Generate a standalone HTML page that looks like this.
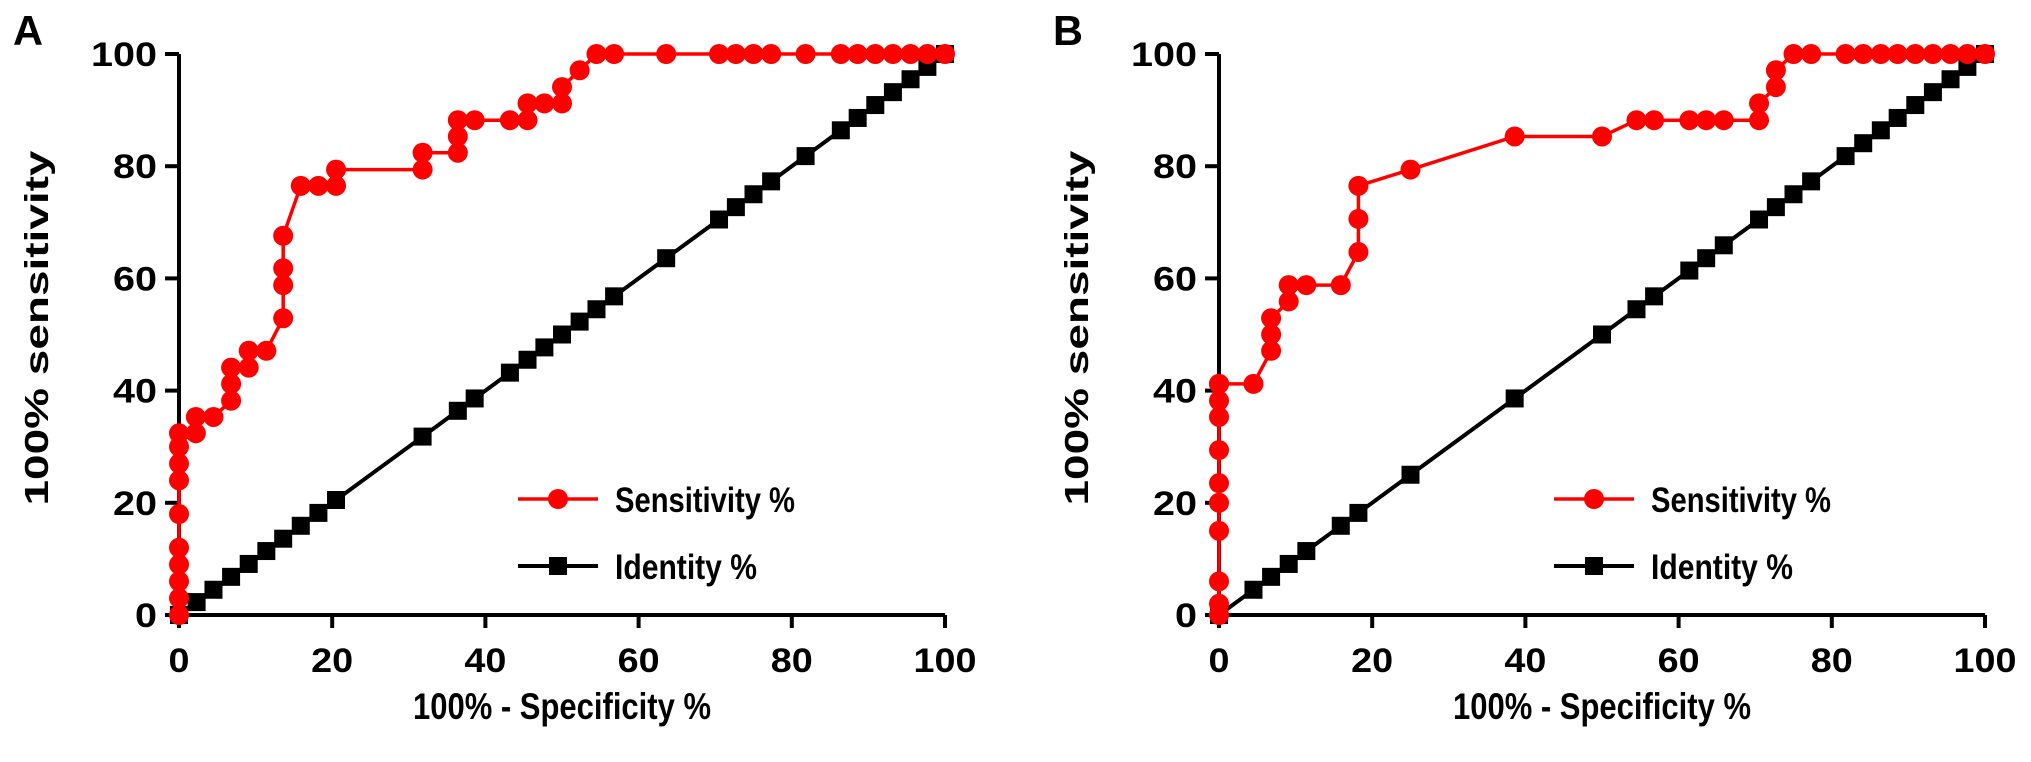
<!DOCTYPE html>
<html><head><meta charset="utf-8"><style>
html,body{margin:0;padding:0;background:#fff;}
svg{display:block;font-family:"Liberation Sans",Arial,sans-serif;font-weight:bold;}
</style></head><body>
<svg id="chart" width="2031" height="762" viewBox="0 0 2031 762" xmlns="http://www.w3.org/2000/svg"></svg>
<script>
const xTicks = [0,20,40,60,80,100];
const yTicks = [0,20,40,60,80,100];
const sensAx = [0,0,0,0,0,0,0,0,0,0,2.2,2.2,4.5,6.8,6.8,6.8,9.1,9.1,11.4,13.6,13.6,13.6,13.6,15.9,18.2,20.5,20.5,31.8,31.8,36.4,36.4,36.4,38.6,43.2,45.5,45.5,47.7,50,50,52.3,54.5,56.8,63.6,70.5,72.7,75,77.3,81.8,86.4,88.6,90.9,93.2,95.5,97.7,100];
const sensAy = [0,3,6,9,12,18,24,27,30,32.4,32.4,35.3,35.3,38.2,41.2,44.1,44.1,47.1,47.1,52.9,58.8,61.8,67.6,76.5,76.5,76.5,79.4,79.4,82.4,82.4,85.3,88.2,88.2,88.2,88.2,91.2,91.2,91.2,94.1,97.1,100,100,100,100,100,100,100,100,100,100,100,100,100,100,100];
const identA = [0,2.3,4.5,6.8,9.1,11.4,13.6,15.9,18.2,20.5,31.8,36.4,38.6,43.2,45.5,47.7,50,52.3,54.5,56.8,63.6,70.5,72.7,75,77.3,81.8,86.4,88.6,90.9,93.2,95.5,97.7,100];
const sensBx = [0,0,0,0,0,0,0,0,0,0,0,4.5,6.8,6.8,6.8,9.1,9.1,11.4,15.9,18.2,18.2,18.2,25,38.6,50,54.5,56.8,61.4,63.6,65.9,70.5,70.5,72.7,72.7,75,77.3,81.8,84.1,86.4,88.6,90.9,93.2,95.5,97.7,100];
const sensBy = [0,2,6,15,20,23.5,29.4,35.3,38.2,41.2,41.2,41.2,47.1,50,52.9,55.9,58.8,58.8,58.8,64.7,70.6,76.5,79.4,85.3,85.3,88.2,88.2,88.2,88.2,88.2,88.2,91.2,94.1,97.1,100,100,100,100,100,100,100,100,100,100,100];
const identB = [0,4.5,6.8,9.1,11.4,15.9,18.2,25,38.6,50,54.5,56.8,61.4,63.6,65.9,70.5,72.7,75,77.3,81.8,84.1,86.4,88.6,90.9,93.2,95.5,97.7,100];

const NS="http://www.w3.org/2000/svg";
const svg=document.getElementById('chart');
function mk(tag,attrs,parent){const e=document.createElementNS(NS,tag);for(const k in attrs)e.setAttribute(k,attrs[k]);(parent||svg).appendChild(e);return e;}
const W=766, Y0=615, Y100=54;
function yS(v){return Y0-(Y0-Y100)*v/100;}
function tl(s){return {textLength:s,lengthAdjust:'spacingAndGlyphs'};}

function panel(letter,x0,sx,sy,idv,titleX,legX){
  const xS=v=>x0+W*v/100;
  const g=mk('g',{});
  
  
  const lab=mk('text',Object.assign({x:x0-166,y:45,'font-size':42,fill:'#000'},tl(30)),g);lab.textContent=letter;
  
  
  const ax=mk('path',{d:`M${x0} ${Y100} V${Y0} H${xS(100)}`,stroke:'#000','stroke-width':4,fill:'none'},g);
  
  
  yTicks.forEach(t=>{
    mk('line',{x1:x0-14,x2:x0,y1:yS(t),y2:yS(t),stroke:'#000','stroke-width':4},g);
    const n=String(t).length;
    const tx=mk('text',Object.assign({x:x0-22,y:yS(t)+12,'font-size':34,'text-anchor':'end'},tl(22*n)),g);tx.textContent=t;
    
    
  });
  xTicks.forEach(t=>{
    mk('line',{x1:xS(t),x2:xS(t),y1:Y0,y2:Y0+13,stroke:'#000','stroke-width':4},g);
    const n=String(t).length;
    const tx=mk('text',Object.assign({x:xS(t),y:Y0+57,'font-size':34,'text-anchor':'middle'},tl(21*n)),g);tx.textContent=t;
    
    
  });
  const xt=mk('text',Object.assign({x:xS(50),y:719,'font-size':37,'text-anchor':'middle'},tl(298)),g);xt.textContent='100% - Specificity %';
  
  
  const yt=mk('text',Object.assign({x:0,y:0,'font-size':33,'text-anchor':'middle',transform:`translate(${titleX},328) rotate(-90)`},tl(355)),g);yt.textContent='100% sensitivity';
  
  
  const ip=mk('polyline',{points:idv.map(v=>xS(v)+','+yS(v)).join(' '),stroke:'#000','stroke-width':4,fill:'none'},g);
  
  
  idv.forEach(v=>{const r=mk('rect',{x:xS(v)-9,y:yS(v)-9,width:18,height:18,fill:'#000'},g);
    
    });
  const sp=mk('polyline',{points:sx.map((v,i)=>xS(v)+','+yS(sy[i])).join(' '),stroke:'#f00','stroke-width':3.5,fill:'none'},g);
  
  
  sx.forEach((v,i)=>{const c=mk('circle',{cx:xS(v),cy:yS(sy[i]),r:10,fill:'#f00'},g);
    
    });
  const lg=mk('g',{},g);
  
  
  mk('line',{x1:legX,x2:legX+80,y1:499,y2:499,stroke:'#f00','stroke-width':3.5},lg);
  mk('circle',{cx:legX+40,cy:499,r:10,fill:'#f00'},lg);
  const t1=mk('text',Object.assign({x:legX+97,y:512,'font-size':35},tl(180)),lg);t1.textContent='Sensitivity %';
  
  
  mk('line',{x1:legX,x2:legX+80,y1:566,y2:566,stroke:'#000','stroke-width':4},lg);
  mk('rect',{x:legX+31,y:557,width:18,height:18,fill:'#000'},lg);
  const t2=mk('text',Object.assign({x:legX+97,y:579,'font-size':35},tl(142)),lg);t2.textContent='Identity %';
  
  
}
panel('A',179,sensAx,sensAy,identA,48,518);
panel('B',1219,sensBx,sensBy,identB,1088,1554);
</script>
</body></html>
